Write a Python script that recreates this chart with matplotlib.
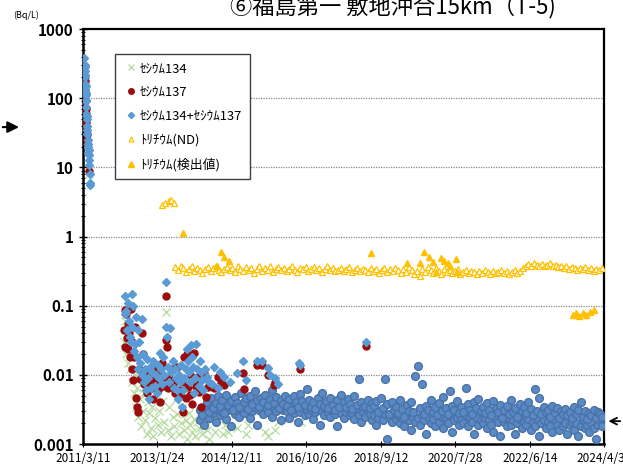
import matplotlib
matplotlib.use('Agg')
import matplotlib.pyplot as plt
import numpy as np
import pandas as pd

plt.rcParams['font.family'] = ['Noto Sans CJK JP', 'DejaVu Sans']

# 経過日数（2011/3/11 起点）と濃度 (Bq/L)
start = pd.Timestamp('2011-03-11')

# 事故直後 (2011/3-5)
early_sum_days = [15, 17, 18, 19, 20, 21, 22, 23, 25, 26, 27, 28, 30, 32, 33, 35, 37, 38, 40, 42,
                  44, 46, 48, 50, 52, 55, 57, 60, 62, 66, 70]
early_sum_vals = [380, 300, 250, 200, 280, 160, 220, 130, 150, 110, 90, 120, 75, 60, 95, 50, 40, 55, 30, 35,
                  25, 20, 22, 16, 18, 13, 15, 11, 8, 6, 5.5]
early_137_days = [17, 19, 21, 23, 25, 27, 29, 31, 34, 36, 40, 60]
early_137_vals = [180, 130, 110, 90, 70, 60, 45, 38, 30, 25, 22, 9]
early_134_days = [17, 20, 24, 28, 33, 38, 45, 58]
early_134_vals = [170, 120, 85, 55, 35, 25, 18, 8]

# セシウム134+137（菱形）
sum_days = [385, 392, 400, 408, 415, 422, 430, 440, 448, 456, 463, 470, 478, 486, 495, 503, 512, 520, 530, 540,
            548, 556, 566, 575, 585, 594, 603, 612, 622, 630, 640, 650, 660, 670, 680, 690, 700, 710, 720, 730,
            740, 750, 762, 768, 775, 785, 795, 805, 815, 825, 835, 845, 855, 865, 875, 885, 895, 905, 915, 925,
            935, 945, 955, 965, 975, 985, 995, 1005, 1015, 1025, 1035, 1045, 1055, 1065, 1075, 1085, 1095, 1110,
            1125, 1140, 1160, 1185, 1210, 1240, 1265, 1300, 1350, 1420, 1472, 1500, 1600, 1648, 1700, 1725,
            1770, 1800, 1990, 2000, 2602]
sum_vals = [0.075, 0.14, 0.085, 0.045, 0.11, 0.06, 0.035, 0.03, 0.15, 0.05, 0.1, 0.022, 0.028, 0.07, 0.018,
            0.045, 0.012, 0.03, 0.015, 0.065, 0.01, 0.02, 0.008, 0.012, 0.006, 0.017, 0.009, 0.0045, 0.013,
            0.0065, 0.011, 0.016, 0.007, 0.01, 0.0055, 0.014, 0.009, 0.021, 0.012, 0.0075, 0.018, 0.01, 0.05,
            0.22, 0.035, 0.013, 0.008, 0.047, 0.011, 0.016, 0.0065, 0.012, 0.009, 0.006, 0.0045, 0.01, 0.008,
            0.014, 0.0035, 0.006, 0.009, 0.012, 0.024, 0.016, 0.011, 0.008, 0.027, 0.018, 0.013, 0.0055, 0.009,
            0.028, 0.012, 0.007, 0.016, 0.011, 0.0085, 0.006, 0.012, 0.0095, 0.008, 0.0075, 0.013, 0.0065,
            0.011, 0.0095, 0.008, 0.0105, 0.016, 0.0085, 0.016, 0.016, 0.0125, 0.01, 0.009, 0.0075, 0.015,
            0.014, 0.03]

# セシウム137
cs137_days = [380, 386, 392, 398, 405, 412, 418, 425, 432, 440, 448, 456, 464, 472, 480, 490, 500, 510, 520,
              530, 540, 552, 562, 575, 588, 600, 612, 625, 638, 650, 662, 675, 688, 700, 712, 725, 738, 750,
              762, 768, 775, 785, 795, 808, 820, 832, 845, 858, 870, 882, 895, 908, 920, 932, 945, 958, 970,
              982, 995, 1008, 1020, 1032, 1045, 1058, 1072, 1085, 1100, 1115, 1130, 1150, 1180, 1210, 1240,
              1270, 1300, 1472, 1480, 1602, 1648, 1704, 1760, 1770, 2000, 2602]
cs137_vals = [0.045, 0.088, 0.025, 0.077, 0.034, 0.055, 0.024, 0.04, 0.018, 0.09, 0.012, 0.03, 0.0085, 0.018,
              0.05, 0.0046, 0.0034, 0.0029, 0.012, 0.0086, 0.041, 0.02, 0.0075, 0.0095, 0.0055, 0.008, 0.011,
              0.0065, 0.009, 0.0045, 0.0125, 0.008, 0.006, 0.01, 0.004, 0.015, 0.007, 0.0095, 0.032, 0.14,
              0.025, 0.0065, 0.009, 0.0067, 0.012, 0.0072, 0.0055, 0.0085, 0.013, 0.006, 0.0052, 0.0078,
              0.0029, 0.018, 0.0046, 0.02, 0.0068, 0.0052, 0.0098, 0.0038, 0.021, 0.0082, 0.0068, 0.0092,
              0.0056, 0.0035, 0.009, 0.0105, 0.0048, 0.0068, 0.007, 0.0065, 0.0092, 0.0078, 0.0072, 0.0105,
              0.0063, 0.014, 0.014, 0.01, 0.0072, 0.0078, 0.012, 0.026]

# セシウム134
cs134_days = [382, 390, 398, 405, 414, 422, 430, 440, 450, 460, 470, 480, 490, 500, 512, 525, 538, 550, 562,
              575, 588, 600, 612, 625, 638, 650, 662, 675, 690, 705, 720, 735, 750, 768, 780, 795, 810, 825,
              840, 855, 870, 885, 900, 915, 930, 945, 960, 975, 990, 1005, 1020, 1035, 1050, 1065, 1080, 1100,
              1120, 1140, 1165, 1190, 1220, 1290, 1310, 1340, 1420, 1500, 1520, 1680, 1700, 1770, 1800, 2005]
cs134_vals = [0.03, 0.06, 0.02, 0.04, 0.015, 0.025, 0.012, 0.05, 0.008, 0.018, 0.0055, 0.01, 0.0035, 0.0065,
              0.0025, 0.0045, 0.0018, 0.003, 0.0055, 0.0022, 0.0014, 0.004, 0.0028, 0.0017, 0.0035, 0.0013,
              0.0024, 0.005, 0.0019, 0.003, 0.0015, 0.0042, 0.0021, 0.082, 0.0016, 0.0034, 0.0013, 0.0025,
              0.0018, 0.0045, 0.0027, 0.0014, 0.002, 0.0033, 0.0016, 0.0022, 0.0012, 0.0028, 0.0019, 0.0015,
              0.0023, 0.0013, 0.0021, 0.0017, 0.0026, 0.0014, 0.002, 0.0016, 0.0012, 0.0022, 0.0015, 0.0014,
              0.0019, 0.0015, 0.0017, 0.0014, 0.0019, 0.0015, 0.0013, 0.0016, 0.0021, 0.0021]

# 2014年以降（丸印、上層・下層）
cir_days = [1080, 1101, 1119, 1140, 1161, 1179, 1200, 1221, 1240, 1259,
            1281, 1300, 1318, 1339, 1361, 1380, 1399, 1420, 1441, 1459,
            1480, 1500, 1521, 1539, 1560, 1581, 1599, 1620, 1641, 1660,
            1679, 1700, 1722, 1740, 1759, 1780, 1801, 1819, 1840, 1861,
            1880, 1899, 1920, 1941, 1960, 1979, 2000, 2021, 2040, 2059,
            2080, 2101, 2119, 2140, 2161, 2180, 2199, 2220, 2241, 2260,
            2279, 2300, 2322, 2340, 2359, 2380, 2401, 2419, 2440, 2461,
            2480, 2499, 2520, 2541, 2560, 2579, 2600, 2621, 2640, 2659,
            2680, 2701, 2719, 2740, 2761, 2780, 2799, 2820, 2841, 2860,
            2879, 2900, 2922, 2940, 2959, 2980, 3001, 3019, 3040, 3061,
            3080, 3099, 3120, 3141, 3160, 3179, 3200, 3221, 3240, 3259,
            3280, 3301, 3319, 3340, 3361, 3380, 3399, 3420, 3441, 3460,
            3479, 3500, 3522, 3540, 3559, 3580, 3601, 3619, 3640, 3661,
            3680, 3699, 3720, 3741, 3760, 3779, 3800, 3821, 3840, 3859,
            3880, 3901, 3919, 3940, 3961, 3980, 3999, 4020, 4041, 4060,
            4079, 4100, 4122, 4140, 4159, 4180, 4201, 4219, 4240, 4261,
            4280, 4299, 4320, 4341, 4360, 4379, 4400, 4421, 4440, 4459,
            4480, 4501, 4519, 4540, 4561, 4580, 4599, 4620, 4641, 4660,
            4679, 4700, 4722, 4740, 4759, 4780]
cir_upper = [0.0031, 0.0026, 0.0035, 0.0041, 0.0029, 0.0046, 0.0033, 0.0039, 0.0050, 0.0036,
             0.0044, 0.0028, 0.0052, 0.0037, 0.0042, 0.0031, 0.0048, 0.0039, 0.0034, 0.0055,
             0.0041, 0.0046, 0.0032, 0.0049, 0.0038, 0.0058, 0.0043, 0.0035, 0.0047, 0.0040,
             0.0052, 0.0037, 0.0045, 0.0060, 0.0039, 0.0048, 0.0033, 0.0043, 0.0038, 0.0050,
             0.0036, 0.0045, 0.0031, 0.0049, 0.0040, 0.0034, 0.0053, 0.0042, 0.0037, 0.0062,
             0.0044, 0.0035, 0.0040, 0.0032, 0.0047, 0.0038, 0.0054, 0.0036, 0.0042, 0.0033,
             0.0046, 0.0037, 0.0031, 0.0043, 0.0035, 0.0051, 0.0040, 0.0034, 0.0045, 0.0038,
             0.0032, 0.0049, 0.0037, 0.0087, 0.0041, 0.0035, 0.0036, 0.0044, 0.0033, 0.0039,
             0.0036, 0.0042, 0.0029, 0.0046, 0.0033, 0.0087, 0.0038, 0.0027, 0.0040, 0.0031,
             0.0035, 0.0028, 0.0043, 0.0032, 0.0025, 0.0037, 0.0030, 0.0041, 0.0029, 0.0098,
             0.0135, 0.0033, 0.0073, 0.0027, 0.0036, 0.0031, 0.0044, 0.0029, 0.0034, 0.0026,
             0.0039, 0.0030, 0.0048, 0.0033, 0.0027, 0.0058, 0.0036, 0.0031, 0.0042, 0.0028,
             0.0035, 0.0029, 0.0065, 0.0038, 0.0031, 0.0027, 0.0040, 0.0033, 0.0045, 0.0030,
             0.0034, 0.0028, 0.0039, 0.0031, 0.0026, 0.0042, 0.0033, 0.0029, 0.0037, 0.0024,
             0.0031, 0.0036, 0.0027, 0.0044, 0.0029, 0.0033, 0.0025, 0.0038, 0.0030, 0.0035,
             0.0028, 0.0041, 0.0032, 0.0026, 0.0063, 0.0030, 0.0046, 0.0027, 0.0034, 0.0029,
             0.0031, 0.0025, 0.0036, 0.0028, 0.0033, 0.0024, 0.0030, 0.0027, 0.0032, 0.0026,
             0.0029, 0.0024, 0.0034, 0.0027, 0.0031, 0.0040, 0.0025, 0.0030, 0.0023, 0.0028,
             0.0026, 0.0031, 0.0024, 0.0029, 0.0027, 0.0025]
cir_lower = [0.0022, 0.0030, 0.0019, 0.0027, 0.0024, 0.0033, 0.0028, 0.0021, 0.0031, 0.0026,
             0.0029, 0.0035, 0.0023, 0.0031, 0.0018, 0.0034, 0.0027, 0.0030, 0.0025, 0.0032,
             0.0028, 0.0033, 0.0037, 0.0024, 0.0030, 0.0035, 0.0019, 0.0031, 0.0036, 0.0027,
             0.0034, 0.0029, 0.0038, 0.0025, 0.0033, 0.0030, 0.0036, 0.0022, 0.0031, 0.0035,
             0.0030, 0.0024, 0.0034, 0.0028, 0.0032, 0.0021, 0.0029, 0.0033, 0.0026, 0.0031,
             0.0027, 0.0031, 0.0023, 0.0029, 0.0034, 0.0019, 0.0030, 0.0026, 0.0032, 0.0028,
             0.0025, 0.0030, 0.0027, 0.0018, 0.0031, 0.0028, 0.0024, 0.0029, 0.0033, 0.0026,
             0.0028, 0.0023, 0.0030, 0.0026, 0.0021, 0.0029, 0.0025, 0.0031, 0.0027, 0.0022,
             0.0026, 0.0019, 0.0024, 0.0029, 0.0022, 0.0027, 0.0012, 0.0025, 0.0021, 0.0028,
             0.0023, 0.0026, 0.0020, 0.0024, 0.0018, 0.0027, 0.0022, 0.0016, 0.0025, 0.0021,
             0.0024, 0.0019, 0.0026, 0.0022, 0.0014, 0.0025, 0.0020, 0.0023, 0.0018, 0.0027,
             0.0021, 0.0025, 0.0017, 0.0023, 0.0020, 0.0026, 0.0015, 0.0022, 0.0024, 0.0019,
             0.0023, 0.0020, 0.0026, 0.0018, 0.0024, 0.0021, 0.0014, 0.0025, 0.0019, 0.0022,
             0.0020, 0.0024, 0.0017, 0.0022, 0.0019, 0.0015, 0.0023, 0.0021, 0.0013, 0.0025,
             0.0021, 0.0018, 0.0024, 0.0019, 0.0022, 0.0014, 0.0020, 0.0023, 0.0017, 0.0021,
             0.0019, 0.0023, 0.0016, 0.0021, 0.0018, 0.0024, 0.0013, 0.0020, 0.0022, 0.0017,
             0.0021, 0.0018, 0.0015, 0.0022, 0.0019, 0.0016, 0.0023, 0.0018, 0.0020, 0.0014,
             0.0019, 0.0021, 0.0016, 0.0020, 0.0013, 0.0018, 0.0022, 0.0017, 0.0019, 0.0015,
             0.0020, 0.0017, 0.0012, 0.0019, 0.0022, 0.0018]

# トリチウム(ND)
h3nd_days = [730, 760, 790, 815, 835,
             850, 875, 900, 925, 950, 975, 1000, 1025, 1050, 1075,
             1100, 1125, 1150, 1175, 1200, 1225, 1250, 1275, 1300, 1325,
             1350, 1375, 1400, 1425, 1450, 1475, 1500, 1525, 1550, 1575,
             1600, 1625, 1650, 1675, 1700, 1725, 1750, 1775, 1800, 1825,
             1850, 1875, 1900, 1925, 1950, 1975, 2000, 2025, 2050, 2075,
             2100, 2125, 2150, 2175, 2200, 2225, 2250, 2275, 2300, 2325,
             2350, 2375, 2400, 2425, 2450, 2475, 2500, 2525, 2550, 2575,
             2600, 2625, 2650, 2675, 2700, 2725, 2750, 2775, 2800, 2825,
             2850, 2875, 2900, 2925, 2950, 2975, 3000, 3025, 3050, 3075,
             3100, 3125, 3150, 3175, 3200, 3225, 3250, 3275, 3300, 3325,
             3350, 3375, 3400, 3425, 3450, 3475, 3500, 3525, 3550, 3575,
             3600, 3625, 3650, 3675, 3700, 3725, 3750, 3775, 3800, 3825,
             3850, 3875, 3900, 3925, 3950, 3975, 4000, 4025, 4050, 4075,
             4100, 4125, 4150, 4175, 4200, 4225, 4250, 4275, 4300, 4325,
             4350, 4375, 4400, 4425, 4450, 4475, 4500, 4525, 4550, 4575,
             4600, 4625, 4650, 4675, 4700, 4725, 4750, 4775]
h3nd_vals = [2.9, 3.1, 3.3, 3.4, 3.1,
             0.36, 0.33, 0.38, 0.35, 0.31, 0.34, 0.37, 0.32, 0.35, 0.33,
             0.30, 0.34, 0.36, 0.32, 0.35, 0.38, 0.33, 0.31, 0.34, 0.36,
             0.33, 0.35, 0.31, 0.37, 0.34, 0.32, 0.36, 0.33, 0.35, 0.30,
             0.34, 0.37, 0.32, 0.35, 0.33, 0.38, 0.31, 0.34, 0.36, 0.33,
             0.35, 0.32, 0.34, 0.37, 0.33, 0.31, 0.35, 0.34, 0.36, 0.32,
             0.34, 0.36, 0.33, 0.35, 0.31, 0.34, 0.37, 0.33, 0.35, 0.32,
             0.33, 0.35, 0.32, 0.34, 0.36, 0.31, 0.33, 0.35, 0.32, 0.34,
             0.33, 0.31, 0.35, 0.32, 0.34, 0.30, 0.33, 0.35, 0.31, 0.34,
             0.32, 0.35, 0.33, 0.30, 0.34, 0.31, 0.36, 0.33, 0.29, 0.32,
             0.27, 0.34, 0.31, 0.36, 0.33, 0.30, 0.35, 0.32, 0.29, 0.34,
             0.31, 0.33, 0.30, 0.32, 0.34, 0.29, 0.31, 0.33, 0.30, 0.32,
             0.31, 0.29, 0.32, 0.30, 0.33, 0.31, 0.29, 0.32, 0.30, 0.31,
             0.33, 0.30, 0.32, 0.29, 0.31, 0.33, 0.30, 0.32, 0.35, 0.38,
             0.40, 0.38, 0.41, 0.39, 0.37, 0.40, 0.38, 0.39, 0.41, 0.37,
             0.39, 0.36, 0.38, 0.35, 0.37, 0.34, 0.36, 0.35, 0.33, 0.35,
             0.34, 0.36, 0.33, 0.35, 0.32, 0.34, 0.33, 0.35]

# トリチウム(検出値)
h3_days = [926, 1230, 1270, 1300, 1345, 2650, 2980, 3100, 3140, 3190, 3220, 3250, 3300, 3320, 3360,
           3375, 3430, 3440, 4510, 4540, 4570, 4600, 4630, 4670, 4700]
h3_vals = [1.13, 0.37, 0.6, 0.5, 0.45, 0.58, 0.42, 0.41, 0.59, 0.5, 0.43, 0.31, 0.49, 0.45, 0.41,
           0.37, 0.47, 0.31, 0.074, 0.078, 0.072, 0.079, 0.073, 0.08, 0.086]

tick_labels = ['2011/3/11', '2013/1/24', '2014/12/11', '2016/10/26', '2018/9/12',
               '2020/7/28', '2022/6/14', '2024/4/30']
y_ticks = [0.001, 0.01, 0.1, 1, 10, 100, 1000]
y_labels = ['0.001', '0.01', '0.1', '1', '10', '100', '1000']


def to_date(days):
    return start + pd.to_timedelta(days, unit='D')


fig = plt.figure(figsize=(6.23, 4.69), dpi=100)
ax = fig.add_axes([0.133, 0.053, 0.837, 0.885])

green = '#B4DA9C'
red = '#9B0D0D'
blue = '#5B9BD5'
gold = '#FFC000'

ax.plot(to_date(early_134_days + cs134_days), early_134_vals + cs134_vals, 'x', color=green,
        ms=5.5, mew=0.9, ls='none', label='ｾｼｳﾑ134', zorder=2)
ax.plot(to_date(cir_days), cir_lower, 'o', color='#5A8AC6', mec='#4A72A6', ms=5.6, ls='none', zorder=3)
ax.plot(to_date(cir_days), cir_upper, 'o', color='#5A8AC6', mec='#4A72A6', ms=5.6, ls='none', zorder=3)
ax.plot(to_date(early_137_days + cs137_days), early_137_vals + cs137_vals, 'o', color=red,
        ms=5, ls='none', label='ｾｼｳﾑ137', zorder=4)
ax.plot(to_date(early_sum_days + sum_days), early_sum_vals + sum_vals, 'D', color=blue,
        ms=4, ls='none', label='ｾｼｳﾑ134+ｾｼｳﾑ137', zorder=5)
ax.plot(to_date(h3nd_days), h3nd_vals, '^', mfc='white', mec=gold, ms=4.3, mew=0.9,
        ls='none', label='ﾄﾘﾁｳﾑ(ND)', zorder=4)
ax.plot(to_date(h3_days), h3_vals, '^', color=gold, ms=4.6, ls='none',
        label='ﾄﾘﾁｳﾑ(検出値)', zorder=5)

ax.set_yscale('log')
ax.set_ylim(0.001, 1000)
ax.set_xlim(pd.Timestamp('2011-03-11'), pd.Timestamp('2024-04-30'))
ax.set_yticks(y_ticks)
ax.set_yticklabels(y_labels, fontsize=11, fontweight='bold')
ax.yaxis.set_minor_locator(matplotlib.ticker.LogLocator(base=10, subs=np.arange(2, 10), numticks=20))
ax.yaxis.set_minor_formatter(matplotlib.ticker.NullFormatter())
ax.tick_params(axis='y', which='major', direction='inout', length=6, width=1)
ax.tick_params(axis='y', which='minor', direction='inout', length=3, width=0.8)

ax.set_xticks(pd.to_datetime(tick_labels, format='%Y/%m/%d'))
ax.set_xticklabels(tick_labels, fontsize=8.5)
ax.tick_params(axis='x', direction='inout', length=5, pad=3)

for v in [0.01, 0.1, 1, 10, 100]:
    ax.axhline(v, color='#8C8C8C', lw=0.9, ls=(0, (1, 1)), zorder=1)

for side in ['left', 'bottom']:
    ax.spines[side].set_linewidth(1.8)
for side in ['right', 'top']:
    ax.spines[side].set_linewidth(1.6)

leg = ax.legend(loc='upper left', bbox_to_anchor=(0.05, 0.955), fontsize=9.3, frameon=True,
                fancybox=False, edgecolor='#404040', framealpha=1, labelspacing=0.85,
                handletextpad=0.1, handlelength=1.2, borderpad=0.6, markerscale=0.8)
leg.get_frame().set_linewidth(1.0)

fig.text(0.63, 0.985, '⑥福島第一 敷地沖合15km（T-5)', ha='center', va='center', fontsize=16)
fig.text(0.042, 0.968, '(Bq/L)', ha='center', va='center', fontsize=6.5)

# 矢印
fig.add_artist(matplotlib.patches.FancyArrowPatch((0.0, 0.729), (0.035, 0.729),
               transform=fig.transFigure, arrowstyle='-|>', mutation_scale=17, color='black', lw=1.5))
fig.add_artist(matplotlib.patches.FancyArrowPatch((1.0, 0.102), (0.972, 0.102),
               transform=fig.transFigure, arrowstyle='->', mutation_scale=12, color='black', lw=1.3))

fig.savefig('out.png', dpi=100)
